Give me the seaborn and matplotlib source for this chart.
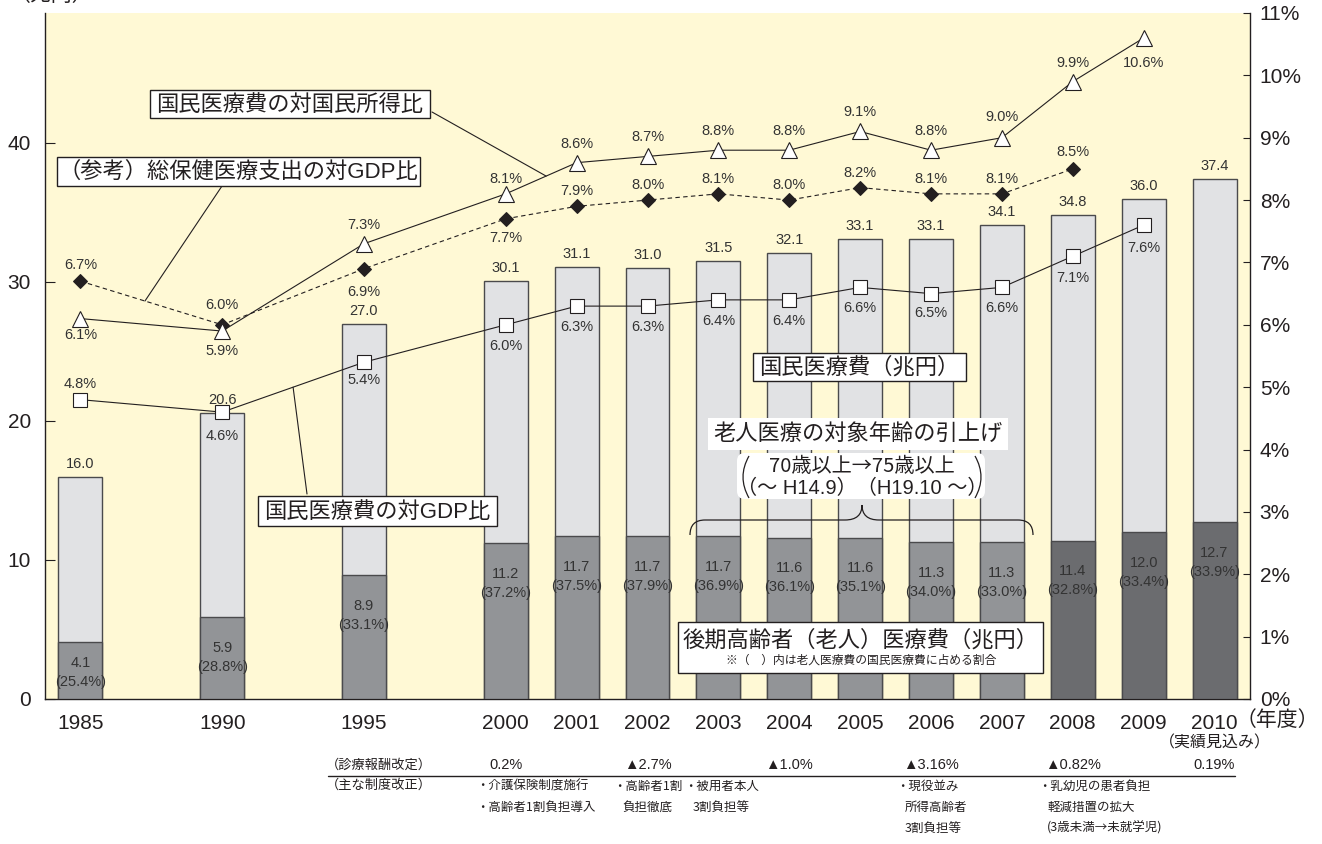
import numpy as np
import pandas as pd
import matplotlib
matplotlib.use("Agg")
import matplotlib.pyplot as plt
import matplotlib.transforms as mtransforms
from matplotlib.path import Path
from matplotlib.patches import PathPatch, Rectangle, FancyBboxPatch
from matplotlib.lines import Line2D
import seaborn as sns

# ---------------- data ----------------
years = ["1985", "1990", "1995", "2000", "2001", "2002", "2003", "2004",
         "2005", "2006", "2007", "2008", "2009", "2010"]
slots = [0, 2, 4, 6, 7, 8, 9, 10, 11, 12, 13, 14, 15, 16]
national_cost = [16.0, 20.6, 27.0, 30.1, 31.1, 31.0, 31.5, 32.1, 33.1, 33.1, 34.1, 34.8, 36.0, 37.4]
elderly_cost = [4.1, 5.9, 8.9, 11.2, 11.7, 11.7, 11.7, 11.6, 11.6, 11.3, 11.3, 11.4, 12.0, 12.7]
elderly_share = [25.4, 28.8, 33.1, 37.2, 37.5, 37.9, 36.9, 36.1, 35.1, 34.0, 33.0, 32.8, 33.4, 33.9]
cost_to_gdp = [4.8, 4.6, 5.4, 6.0, 6.3, 6.3, 6.4, 6.4, 6.6, 6.5, 6.6, 7.1, 7.6, np.nan]
cost_to_income = [6.1, 5.9, 7.3, 8.1, 8.6, 8.7, 8.8, 8.8, 9.1, 8.8, 9.0, 9.9, 10.6, np.nan]
health_to_gdp = [6.7, 6.0, 6.9, 7.7, 7.9, 8.0, 8.1, 8.0, 8.2, 8.1, 8.1, 8.5, np.nan, np.nan]
scheme = ["老人医療"] * 11 + ["後期高齢者"] * 3
fee_years = ["2000", "2002", "2004", "2006", "2008", "2010"]
fee_rates = ["0.2%", "▲2.7%", "▲1.0%", "▲3.16%", "▲0.82%", "0.19%"]
reform_notes = [
    ["・介護保険制度施行", "・高齢者1割負担導入"],
    ["・高齢者1割", "負担徹底"],
    ["・被用者本人", "3割負担等"],
    ["・現役並み", "所得高齢者", "3割負担等"],
    ["・乳幼児の患者負担", "軽減措置の拡大", "(3歳未満→未就学児)"],
]

# label offsets (pixels, + is up) for the ratio series
income_off = [-16, -20, 19, 15, 19, 19, 19, 19, 19, 19, 21, 19, -25]
health_off = [16, 20, -23, -19, 15, 15, 15, 15, 15, 15, 15, 17]
gdp_off = [16, -24, -18, -21, -21, -21, -21, -21, -21, -19, -21, -22, -23]

df = pd.DataFrame(dict(slot=slots, year=years, national=national_cost,
                       elderly=elderly_cost, share=elderly_share,
                       gdp=cost_to_gdp, income=cost_to_income,
                       health=health_to_gdp, scheme=scheme))

# ---------------- style ----------------
sns.set_style("white")
plt.rcParams["font.family"] = ["Liberation Sans", "Noto Sans CJK JP", "DejaVu Sans"]
CJK = ["Noto Sans CJK JP", "DejaVu Sans"]

INK = "#231F20"
TXT = "#333333"
YELLOW = "#FFF9D5"
LIGHT = "#E1E2E4"
MID = "#929497"
DARK = "#6B6C6F"
EDGE = "#4A4A4C"

W, H = 1322, 844
fig = plt.figure(figsize=(W / 100, H / 100), dpi=100)
fig.patch.set_facecolor("white")
PX = mtransforms.Affine2D().scale(1 / W, -1 / H).translate(0, 1) + fig.transFigure

ax = fig.add_axes([45 / W, 1 - 699 / H, 1205 / W, 686 / H])
ax.set_facecolor(YELLOW)

# ---------------- bars ----------------
sns.barplot(data=df, x="slot", y="national", native_scale=True, width=0.62,
            color=LIGHT, saturation=1, edgecolor=EDGE, linewidth=1,
            errorbar=None, ax=ax, zorder=2)
sns.barplot(data=df, x="slot", y="elderly", hue="scheme",
            palette={"老人医療": MID, "後期高齢者": DARK},
            native_scale=True, dodge=False, width=0.62, saturation=1,
            edgecolor=EDGE, linewidth=1, errorbar=None, legend=False,
            ax=ax, zorder=3)

ax.set_xlim(-0.5, 16.5)
ax.set_ylim(0, 49.35)
ax.set_xlabel("")
ax.set_ylabel("")
ax.set_xticks(slots)
ax.set_xticklabels(years)
ax.set_xticks(np.arange(0.5, 16, 1), minor=True)
ax.tick_params(axis="x", which="major", length=0, pad=11, labelsize=15, labelcolor=INK)
ax.tick_params(axis="x", which="minor", direction="in", length=5, width=0.8, color=INK)
ax.set_yticks([0, 10, 20, 30, 40])
ax.tick_params(axis="y", direction="in", length=7, width=0.8, color=INK,
               pad=10, labelsize=15, labelcolor=INK)
for s in ["top", "right"]:
    ax.spines[s].set_visible(False)
for s in ["left", "bottom"]:
    ax.spines[s].set_color(INK)
    ax.spines[s].set_linewidth(1)

# value labels on bars
for sl, tot, eld, sh in zip(slots, national_cost, elderly_cost, elderly_share):
    ax.annotate(f"{tot:.1f}", (sl, tot), xytext=(0, 13), textcoords="offset pixels",
                ha="center", va="center", fontsize=10.5, color=TXT, zorder=5)
    y_num = max(eld - 2.2, 2.6)
    ax.text(sl, y_num, f"{eld:.1f}", ha="center", va="center", fontsize=10.5,
            color=TXT, zorder=5)
    ax.text(sl, y_num - 1.37, f"({sh:.1f}%)", ha="center", va="center",
            fontsize=10.5, color=TXT, zorder=5)

# ---------------- ratio lines ----------------
ax2 = ax.twinx()
ax2.set_ylim(0, 11)
d_h = df.dropna(subset=["health"])
d_i = df.dropna(subset=["income"])
d_g = df.dropna(subset=["gdp"])
sns.lineplot(data=d_h, x="slot", y="health", ax=ax2, color=INK, lw=0.8,
             linestyle=(0, (4, 3)), marker="D", markersize=7.3,
             markerfacecolor=INK, markeredgecolor=INK, zorder=4)
sns.lineplot(data=d_i, x="slot", y="income", ax=ax2, color=INK, lw=0.8,
             marker="^", markersize=11, markerfacecolor="white",
             markeredgecolor=INK, markeredgewidth=0.8, zorder=4)
sns.lineplot(data=d_g, x="slot", y="gdp", ax=ax2, color=INK, lw=0.8,
             marker="s", markersize=10, markerfacecolor="white",
             markeredgecolor=INK, markeredgewidth=0.8, zorder=4)

ax2.set_xlabel("")
ax2.set_ylabel("")
ax2.set_yticks(range(12))
ax2.set_yticklabels([f"{i}%" for i in range(12)])
ax2.tick_params(axis="y", direction="in", length=5, width=0.8, color=INK,
                pad=7, labelsize=15, labelcolor=INK)
for s in ["top", "left", "bottom"]:
    ax2.spines[s].set_visible(False)
ax2.spines["right"].set_color(INK)
ax2.spines["right"].set_linewidth(1)
ax2.set_xlim(-0.5, 16.5)

for col, offs in [("income", income_off), ("health", health_off), ("gdp", gdp_off)]:
    vals = df[col].tolist()
    for sl, v, o in zip(slots, vals, offs):
        if np.isnan(v):
            continue
        ax2.annotate(f"{v:.1f}%", (sl, v), xytext=(0, o), textcoords="offset pixels",
                     ha="center", va="center", fontsize=10.5, color=TXT, zorder=5)


def along(col, i, frac):
    """Point at fraction `frac` between entries i and i+1 of a series."""
    x0, x1 = slots[i], slots[i + 1]
    y0, y1 = df[col].iloc[i], df[col].iloc[i + 1]
    return (x0 + (x1 - x0) * frac, y0 + (y1 - y0) * frac)


def leader(target, start):
    ax2.annotate("", xy=target, xycoords="data", xytext=start, textcoords=PX,
                 arrowprops=dict(arrowstyle="-", color=INK, lw=0.8,
                                 shrinkA=0, shrinkB=0), zorder=6)


def label_box(x0, y0, x1, y1, text, fs=16):
    ax2.add_patch(Rectangle((x0, y0), x1 - x0, y1 - y0, transform=PX,
                            facecolor="white", edgecolor=INK, lw=1, zorder=7))
    ax2.text((x0 + x1) / 2, (y0 + y1) / 2 + 1, text, transform=PX, ha="center",
             va="center", fontsize=fs, color=INK, zorder=8)


leader(along("income", 3, 0.57), (432, 112))
leader(along("health", 0, 0.455), (222, 186))
leader(along("gdp", 1, 0.5), (307, 494))

label_box(150, 90, 430, 118, "国民医療費の対国民所得比")
label_box(57, 157, 420, 186, "（参考）総保健医療支出の対GDP比")
label_box(258, 496, 497, 526, "国民医療費の対GDP比")
label_box(753, 353, 966, 381, "国民医療費（兆円）")

# elderly-care box with note
ax2.add_patch(Rectangle((678, 622), 365, 51, transform=PX, facecolor="white",
                        edgecolor=INK, lw=1, zorder=7))
ax2.text(861, 641, "後期高齢者（老人）医療費（兆円）", transform=PX, ha="center",
         va="center", fontsize=16, color=INK, zorder=8)
ax2.text(861, 661, "※（　）内は老人医療費の国民医療費に占める割合", transform=PX,
         ha="center", va="center", fontsize=8.5, color=INK, zorder=8)

# age-threshold note with brace over 2003-2007
ax2.add_patch(Rectangle((708, 418), 300, 32, transform=PX, facecolor="white",
                        edgecolor="none", zorder=7))
ax2.text(858, 434, "老人医療の対象年齢の引上げ", transform=PX, ha="center",
         va="center", fontsize=16, color=INK, zorder=8)
ax2.add_patch(FancyBboxPatch((737, 453), 248, 46, transform=PX,
                             boxstyle="round,pad=0,rounding_size=8",
                             facecolor="white", edgecolor="none", zorder=7))
ax2.text(862, 467, "70歳以上→75歳以上", transform=PX, ha="center", va="center",
         fontsize=14.5, color=INK, zorder=8, family=CJK)
ax2.text(862, 488, "（～ H14.9）（H19.10 ～）", transform=PX, ha="center",
         va="center", fontsize=14.5, color=INK, zorder=8)
for pts in ([(749, 456), (737, 477), (749, 498)], [(975, 456), (987, 477), (975, 498)]):
    ax2.add_patch(PathPatch(Path(pts, [Path.MOVETO, Path.CURVE3, Path.CURVE3]),
                            transform=PX, fill=False, edgecolor=INK, lw=0.9, zorder=8))

brace = Path(
    [(690, 535), (690, 520), (705, 520), (845, 520), (862, 520), (862, 505),
     (862, 520), (879, 520), (1018, 520), (1033, 520), (1033, 535)],
    [Path.MOVETO, Path.CURVE3, Path.CURVE3, Path.LINETO, Path.CURVE3, Path.CURVE3,
     Path.CURVE3, Path.CURVE3, Path.LINETO, Path.CURVE3, Path.CURVE3])
ax2.add_patch(PathPatch(brace, transform=PX, fill=False, edgecolor=INK, lw=0.9, zorder=8))

# ---------------- outer texts ----------------
fig.text(10, 5, "（兆円）", transform=PX, ha="left", va="bottom", fontsize=15, color=INK)
fig.text(1236, 720, "（年度）", transform=PX, ha="left", va="center", fontsize=15, color=INK)
fig.text(1215, 743, "（実績見込み）", transform=PX, ha="center", va="center",
         fontsize=11.5, color=INK)

BT = mtransforms.blended_transform_factory(ax.transData, PX)
fig.text(326, 765, "（診療報酬改定）", transform=PX, ha="left", va="center",
         fontsize=9.5, color=INK)
fig.text(326, 785, "（主な制度改正）", transform=PX, ha="left", va="center",
         fontsize=9.5, color=INK)
fig.add_artist(Line2D([328, 1235], [776, 776], transform=PX, color=INK, lw=1))
for yr, rate in zip(fee_years, fee_rates):
    fig.text(slots[years.index(yr)], 765, rate, transform=BT, ha="center",
             va="center", fontsize=10.5, color=INK)

note_x = [476, 613, 684, 896, 1038]
for x0, lines in zip(note_x, reform_notes):
    for k, line in enumerate(lines):
        indent = 0 if line.startswith("・") else 9
        fig.text(x0 + indent, 786 + 21 * k, line, transform=PX,
                 ha="left", va="center", fontsize=9, color=INK, family=CJK)

fig.savefig("out.png", dpi=100, facecolor="white")
